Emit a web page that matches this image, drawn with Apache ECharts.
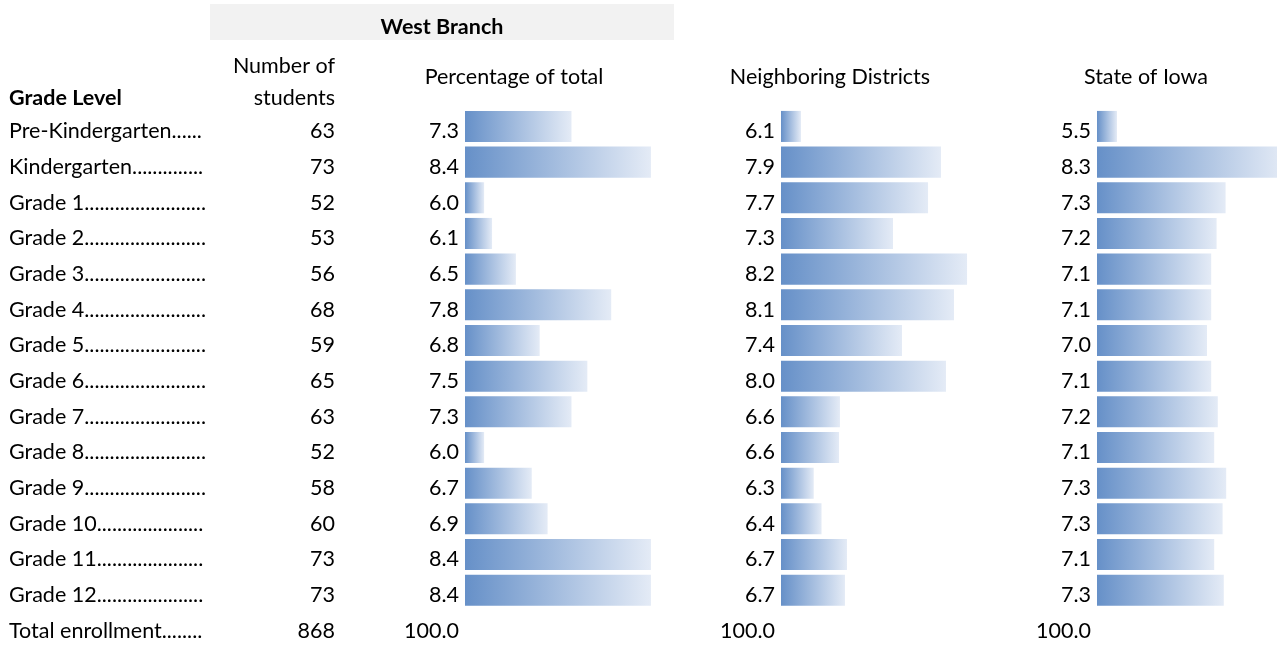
<!DOCTYPE html>
<html><head><meta charset="utf-8">
<script src="https://cdn.jsdelivr.net/npm/echarts@6/dist/echarts.min.js"></script>
<style>html,body{margin:0;padding:0;background:#fff}#c{width:1277px;height:646px}</style>
</head><body><div id="c"></div>
<script>
const grades = ['Pre-Kindergarten......', 'Kindergarten..............', 'Grade 1........................', 'Grade 2........................', 'Grade 3........................', 'Grade 4........................', 'Grade 5........................', 'Grade 6........................', 'Grade 7........................', 'Grade 8........................', 'Grade 9........................', 'Grade 10.....................', 'Grade 11.....................', 'Grade 12.....................'];
const totalLabel = 'Total enrollment........';
const students = [63, 73, 52, 53, 56, 68, 59, 65, 63, 52, 58, 60, 73, 73];
const totalStudents = 868;
const pctWestBranch = [7.258, 8.410, 5.991, 6.106, 6.452, 7.834, 6.797, 7.488, 7.258, 5.991, 6.682, 6.912, 8.410, 8.410];
const pctNeighboring = [6.096, 7.891, 7.725, 7.276, 8.225, 8.058, 7.391, 7.955, 6.596, 6.584, 6.26, 6.36, 6.686, 6.66];
const pctIowa = [5.50, 8.30, 7.31, 7.16, 7.07, 7.07, 7.00, 7.07, 7.18, 7.12, 7.32, 7.26, 7.12, 7.28];
const totalPct = 100.0;
const headerGroup = 'West Branch';
const headerGrade = 'Grade Level';
const headerStudents = ['Number of', 'students'];
const columnTitles = ['Percentage of total', 'Neighboring Districts', 'State of Iowa'];

const FONT = 'Lato';
const FS = 21.5;
const rows = grades.concat([totalLabel]);
const cols = [
  { vals: pctWestBranch, left: 465, min: 5.714, max: 8.614 },
  { vals: pctNeighboring, left: 781, min: 5.84, max: 8.404 },
  { vals: pctIowa, left: 1097, min: 5.1667, max: 8.5 }
];
const GTOP = 108.6, GH = 535.1;
const lbl = { color: '#000', fontFamily: FONT, fontSize: FS, verticalAlign: 'top', lineHeight: 10 };
const grid = [], xAxis = [], yAxis = [], series = [];
cols.forEach((c, i) => {
  grid.push({ left: c.left, top: GTOP, width: 200, height: GH, outerBoundsMode: 'none', containLabel: false });
  xAxis.push({ gridIndex: i, type: 'value', min: c.min, max: c.max, show: false });
  yAxis.push({
    gridIndex: i, type: 'category', data: rows, inverse: true, position: 'left',
    axisLine: { show: false }, axisTick: { show: false }, splitLine: { show: false },
    axisLabel: Object.assign({}, lbl, { interval: 0, margin: 6,
      formatter: (v, idx) => idx < c.vals.length ? c.vals[idx].toFixed(1) : totalPct.toFixed(1) })
  });
  series.push({
    type: 'bar', xAxisIndex: i, yAxisIndex: i, data: c.vals.concat(['-']), barWidth: '87%',
    clip: true,
    itemStyle: { color: new echarts.graphic.LinearGradient(0, 0, 1, 0, [
      { offset: 0, color: '#6690c8' }, { offset: 1, color: '#e4ebf6' }]) }
  });
});
// grade names column
yAxis.push({
  gridIndex: 0, type: 'category', data: rows, inverse: true, position: 'left',
  axisLine: { show: false }, axisTick: { show: false },
  axisLabel: Object.assign({}, lbl, { interval: 0, margin: 456, align: 'left' })
});
// number of students column
yAxis.push({
  gridIndex: 0, type: 'category', data: rows, inverse: true, position: 'left',
  axisLine: { show: false }, axisTick: { show: false },
  axisLabel: Object.assign({}, lbl, { interval: 0, margin: 130,
    formatter: (v, idx) => idx < students.length ? String(students[idx]) : String(totalStudents) })
});

const txt = (x, y, s, align, bold) => ({
  type: 'text', x: x, y: y,
  style: { text: s, fill: '#000', font: (bold ? 'bold ' : '') + FS + 'px ' + FONT, textAlign: align, textVerticalAlign: 'middle' }
});
const graphic = [
  { type: 'rect', shape: { x: 210, y: 4, width: 464, height: 36 }, style: { fill: '#f2f2f2' } },
  txt(442, 27, headerGroup, 'center', true),
  txt(9, 98, headerGrade, 'left', true),
  txt(335, 66, headerStudents[0], 'right', false),
  txt(335, 98, headerStudents[1], 'right', false),
  txt(514, 77, columnTitles[0], 'center', false),
  txt(830, 77, columnTitles[1], 'center', false),
  txt(1146, 77, columnTitles[2], 'center', false)
];

const chart = echarts.init(document.getElementById('c'), null, { renderer: 'canvas' });
chart.setOption({ animation: false, grid, xAxis, yAxis, series, graphic });
</script></body></html>
